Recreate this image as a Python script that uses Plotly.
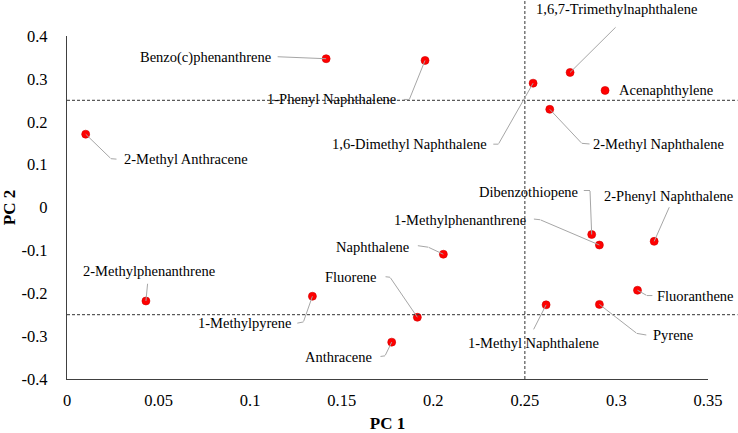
import plotly.graph_objects as go

# ---- data ----
compounds = [
    "Benzo(c)phenanthrene", "2-Methyl Anthracene", "1-Phenyl Naphthalene",
    "1,6-Dimethyl Naphthalene", "1,6,7-Trimethylnaphthalene", "Acenaphthylene",
    "2-Methyl Naphthalene", "Dibenzothiopene", "1-Methylphenanthrene",
    "2-Phenyl Naphthalene", "Naphthalene", "Fluorene", "2-Methylphenanthrene",
    "1-Methylpyrene", "Anthracene", "1-Methyl Naphthalene", "Pyrene", "Fluoranthene",
]
pc1 = [0.1415, 0.0102, 0.1955, 0.2545, 0.2747, 0.2938, 0.2636, 0.2865, 0.2907,
       0.3206, 0.2055, 0.1913, 0.0431, 0.1340, 0.1773, 0.2616, 0.2907, 0.3115]
pc2 = [0.347, 0.171, 0.343, 0.290, 0.315, 0.273, 0.229, -0.063, -0.0875,
       -0.079, -0.109, -0.256, -0.218, -0.207, -0.314, -0.227, -0.226, -0.193]

x_ticks = [0, 0.05, 0.1, 0.15, 0.2, 0.25, 0.3, 0.35]
x_tick_labels = ["0", "0.05", "0.1", "0.15", "0.2", "0.25", "0.3", "0.35"]
y_ticks = [-0.4, -0.3, -0.2, -0.1, 0, 0.1, 0.2, 0.3, 0.4]
y_tick_labels = ["-0.4", "-0.3", "-0.2", "-0.1", "0", "0.1", "0.2", "0.3", "0.4"]

pc1_threshold = 0.25
pc2_thresholds = [0.25, -0.25]

# ---- label placement (screen pixel offsets from each point: dx right, dy down) ----
# text: (xanchor, dx, dy); leader: polyline from label side to the point
label_pos = {
    "Benzo(c)phenanthrene": ("right", -53, -1, [(-49, -2)]),
    "2-Methyl Anthracene": ("left", 36, 25, [(31.3, 25), (25.3, 24.5)]),
    "1-Phenyl Naphthalene": ("right", -27, 38.7, [(-21.7, 39), (-15.7, 39)]),
    "1,6-Dimethyl Naphthalene": ("right", -44.3, 61, [(-40.3, 61), (-34.7, 61)]),
    "1,6,7-Trimethylnaphthalene": ("center", 46.7, -63.8, [(46, -45.6)]),
    "Acenaphthylene": ("left", 12, 0, []),
    "2-Methyl Naphthalene": ("left", 41, 34.7, [(40.3, 34.7), (32, 34)]),
    "Dibenzothiopene": ("right", -11.4, -43, [(-8.4, -44), (-1.7, -44)]),
    "1-Methylphenanthrene": ("right", -71.3, -25, [(-66, -26), (-59.3, -25.3)]),
    "2-Phenyl Naphthalene": ("left", -51.7, -45.6, [(15.3, -34.6)]),
    "Naphthalene": ("right", -32, -7.6, [(-26, -8.6), (-15, -7)]),
    "Fluorene": ("right", -38.3, -40.6, [(-32.3, -40.6), (-27.3, -40)]),
    "2-Methylphenanthrene": ("center", 3.3, -30, [(1.7, -17.7)]),
    "1-Methylpyrene": ("right", -19.3, 27, [(-15.6, 27), (-9, 25.7)]),
    "Anthracene": ("right", -17.7, 15, [(-11.7, 14.4), (-6.7, 13.7)]),
    "1-Methyl Naphthalene": ("center", -12.7, 37.7, [(-12.7, 25)]),
    "Pyrene": ("left", 52, 30.7, [(47.4, 30.7), (37.4, 29)]),
    "Fluoranthene": ("left", 17.4, 6, [(15.4, 5.3), (9.4, 5.3)]),
}

FONT = "Liberation Serif"
LEADER = "#a6a6a6"

fig = go.Figure()
fig.add_trace(go.Scatter(
    x=pc1, y=pc2, mode="markers", text=compounds,
    marker=dict(color="#ff0000", size=8, line=dict(color="#d00000", width=0.6)),
    hovertemplate="%{text}<br>PC 1: %{x}<br>PC 2: %{y}<extra></extra>",
    cliponaxis=False, showlegend=False,
))

annotations = []
for name, x, y in zip(compounds, pc1, pc2):
    xa, dx, dy, leader = label_pos[name]
    annotations.append(dict(
        x=x, y=y, xref="x", yref="y", text=name, showarrow=False,
        xanchor=xa, yanchor="middle", xshift=dx, yshift=-dy,
        font=dict(family=FONT, size=14.5, color="#000000"),
    ))
    pts = leader + [(0, 0)]
    for (ax0, ay0), (bx, by) in zip(pts[:-1], pts[1:]):
        annotations.append(dict(
            x=x, y=y, xref="x", yref="y", text="", showarrow=True,
            arrowhead=0, arrowwidth=1, arrowcolor=LEADER,
            xshift=bx, yshift=-by, ax=ax0 - bx, ay=ay0 - by,
            axref="pixel", ayref="pixel", standoff=0, startstandoff=0,
            font=dict(size=1), borderpad=0,
        ))

shapes = [
    dict(type="line", xref="x", yref="paper", x0=pc1_threshold, x1=pc1_threshold,
         y0=0, y1=1.105, line=dict(color="#333333", width=1, dash="3px,2px")),
]
for t in pc2_thresholds:
    shapes.append(dict(type="line", xref="paper", yref="y", x0=0, x1=1.046,
                       y0=t, y1=t, line=dict(color="#333333", width=1, dash="3px,2px")))

fig.update_layout(
    width=738, height=433,
    margin=dict(l=67, r=30, t=36, b=54, autoexpand=False),
    paper_bgcolor="white", plot_bgcolor="white",
    font=dict(family=FONT, color="#000000"),
    annotations=annotations, shapes=shapes,
    xaxis=dict(
        range=[0, 0.35], tickvals=x_ticks, ticktext=x_tick_labels,
        showgrid=False, zeroline=False, showline=True, linecolor="#404040",
        linewidth=1.3, ticks="", ticklabelstandoff=6, automargin=False,
        tickfont=dict(family=FONT, size=16.5, color="#000000"),
        title=dict(text="<b>PC 1</b>", font=dict(family=FONT, size=17, color="#000000"),
                   standoff=8),
    ),
    yaxis=dict(
        range=[-0.4, 0.4], tickvals=y_ticks, ticktext=y_tick_labels,
        showgrid=False, zeroline=False, showline=True, linecolor="#404040",
        linewidth=1.3, ticks="", ticklabelstandoff=15, automargin=False,
        tickfont=dict(family=FONT, size=16.5, color="#000000"),
        title=dict(text="<b>PC 2</b>", font=dict(family=FONT, size=17, color="#000000"),
                   standoff=6),
    ),
)

# remove the default 8px page margin so the figure fills the window exactly
fig.write_html("out.html", config={"displayModeBar": False},
               post_script="document.body.style.margin='0';")
